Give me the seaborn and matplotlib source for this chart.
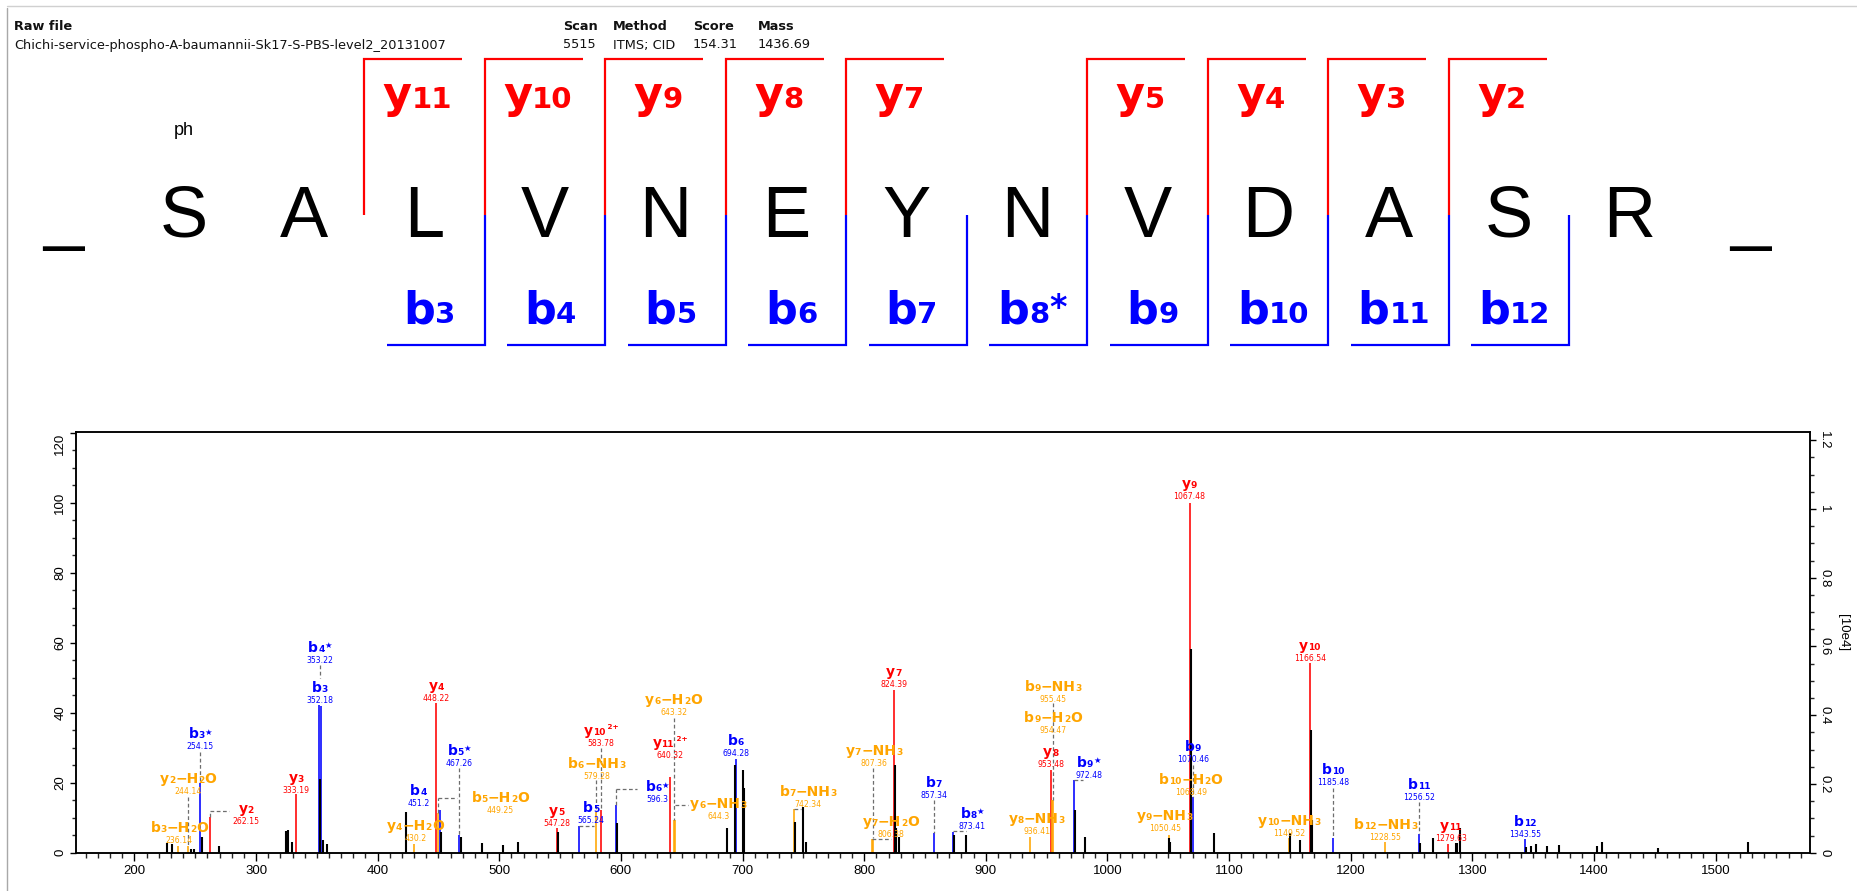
import re
import numpy as np
import pandas as pd
import matplotlib
matplotlib.use("Agg")
import matplotlib.pyplot as plt
import matplotlib.transforms as mtrans
from matplotlib.font_manager import FontProperties
from matplotlib.ticker import MultipleLocator
import seaborn as sns

# ---------------- data ----------------
raw_file = "Chichi-service-phospho-A-baumannii-Sk17-S-PBS-level2_20131007"
meta_keys = ["Scan", "Method", "Score", "Mass"]
meta_vals = ["5515", "ITMS; CID", "154.31", "1436.69"]
peptide = list("SALVNEYNVDASR")
mod_label = "ph"
mod_residue = 0
y_series = [11, 10, 9, 8, 7, 5, 4, 3, 2]
b_series = ["b3", "b4", "b5", "b6", "b7", "b8*", "b9", "b10", "b11", "b12"]

ion_names = ["b3-H2O", "y2-H2O", "b3*", "y2", "y3", "b3", "b4*", "y4-H2O", "y4",
             "b5-H2O", "b4", "b5*", "y5", "b5", "b6-NH3", "y10 2+", "b6*", "y11 2+",
             "y6-H2O", "y6-NH3", "b6", "b7-NH3", "y7-H2O", "y7-NH3", "y7", "b7", "b8*",
             "y8-NH3", "y8", "b9-H2O", "b9-NH3", "b9*", "y9-NH3", "y9", "b10-H2O", "b9",
             "y10-NH3", "y10", "b10", "b12-NH3", "b11", "y11", "b12"]
ion_mz = [236.14, 244.14, 254.15, 262.15, 333.19, 352.18, 353.22, 430.2, 448.22,
          449.25, 451.2, 467.26, 547.28, 565.24, 579.28, 583.78, 596.3, 640.32,
          643.32, 644.3, 694.28, 742.34, 806.38, 807.36, 824.39, 857.34, 873.41,
          936.41, 953.48, 954.47, 955.45, 972.48, 1050.45, 1067.48, 1068.49, 1070.46,
          1149.52, 1166.54, 1185.48, 1228.55, 1256.52, 1279.63, 1343.55]
ion_int = [2.0, 2.0, 19.8, 10.3, 16.7, 42.2, 42.0, 2.5, 42.7,
           11.3, 12.2, 5.0, 7.0, 7.7, 11.7, 12.2, 13.6, 21.7,
           9.3, 9.3, 26.7, 12.4, 3.8, 3.8, 46.5, 5.5, 6.0,
           4.6, 23.6, 15.0, 15.0, 20.8, 5.0, 100.0, 16.0, 16.0,
           4.1, 54.1, 4.1, 3.0, 5.3, 2.5, 3.8]
ion_text = ["236.14", "244.14", "254.15", "262.15", "333.19", "352.18", "353.22", "430.2", "448.22",
            "449.25", "451.2", "467.26", "547.28", "565.24", "579.28", "583.78", "596.3", "640.32",
            "643.32", "644.3", "694.28", "742.34", "806.38", "807.36", "824.39", "857.34", "873.41",
            "936.41", "953.48", "954.47", "955.45", "972.48", "1050.45", "1067.48", "1068.49", "1070.46",
            "1149.52", "1166.54", "1185.48", "1228.55", "1256.52", "1279.63", "1343.55"]

other_mz = [226.6, 230.7, 246.6, 249.3, 255.4, 269.6, 324.7, 326.0, 329.3, 352.5, 354.8,
            358.1, 423.3, 452.1, 468.3, 485.6, 503.4, 515.1, 548.5, 596.5, 687.5, 693.8,
            700.3, 701.1, 743.2, 749.5, 752.2, 825.3, 826.2, 828.9, 874.0, 883.5, 973.3,
            981.8, 1050.9, 1051.8, 1068.3, 1087.7, 1150.3, 1158.4, 1167.4, 1168.4, 1256.8,
            1267.4, 1286.2, 1287.4, 1290.0, 1344.2, 1347.9, 1352.3, 1361.7, 1371.3, 1402.7,
            1406.2, 1452.4, 1526.4]
other_int = [2.9, 2.5, 1.0, 1.0, 4.5, 1.9, 6.2, 6.5, 3.1, 21.0, 3.6,
             2.5, 11.7, 6.0, 4.6, 2.8, 2.2, 3.0, 6.0, 8.5, 7.0, 25.0,
             23.6, 18.5, 8.9, 13.1, 3.1, 25.0, 7.0, 4.6, 5.0, 5.0, 12.2,
             4.6, 4.1, 3.2, 58.1, 5.5, 5.5, 3.6, 35.2, 9.3, 2.9,
             4.1, 2.9, 2.9, 7.0, 1.7, 2.0, 2.4, 2.0, 2.2, 1.9,
             3.1, 1.4, 3.0]

x_ticks = list(range(200, 1501, 100))
y_ticks_left = [0, 20, 40, 60, 80, 100, 120]
y_ticks_right = [0, 0.2, 0.4, 0.6, 0.8, 1.0, 1.2]
y_right_labels = ["0", "0.2", "0.4", "0.6", "0.8", "1", "1.2"]
right_axis_label = "[10e4]"

# ---------------- layout (label placement, not data) ----------------
LABEL_POS = {
    "b3-H2O": (237, 3.6), "y2-H2O": (244.3, 17.4), "b3*": (254.15, 30.3), "y2": (292, 8.9),
    "y3": (333.19, 17.9), "b3": (352.18, 43.6), "b4*": (352.7, 55.0), "y4-H2O": (431, 4.1),
    "y4": (448.22, 44.1), "b5-H2O": (501, 12.2), "b4": (433.5, 14.1), "b5*": (467.26, 25.5),
    "y5": (547.28, 8.4), "b5": (575.5, 9.3), "b6-NH3": (580, 21.7), "y10 2+": (583.78, 31.3),
    "b6*": (630, 15.1), "y11 2+": (640.32, 27.9), "y6-H2O": (643.3, 40.0), "y6-NH3": (680, 10.3),
    "b6": (694.28, 28.3), "b7-NH3": (754, 13.9), "y7-H2O": (822, 5.3), "y7-NH3": (808, 25.5),
    "y7": (824.39, 48.1), "b7": (857.34, 16.4), "b8*": (889, 7.6), "y8-NH3": (942, 6.0),
    "y8": (953.48, 25.3), "b9-H2O": (955.3, 34.8), "b9-NH3": (955.3, 43.9), "b9*": (984.5, 22.1),
    "y9-NH3": (1047, 7.0), "y9": (1067.48, 101.7), "b9": (1070.3, 26.5), "b10-H2O": (1068.5, 17.1),
    "y10-NH3": (1149.5, 5.5), "y10": (1166.54, 55.5), "b10": (1185.48, 20.0),
    "b12-NH3": (1228.6, 4.4), "b11": (1256.52, 15.8), "y11": (1282.5, 4.1), "b12": (1343.55, 5.1),
}
CONNECTORS = {
    "y2-H2O": [(244.14, 16.0, 244.14, 2.0)],
    "b3*": [(254.15, 28.9, 254.15, 19.8)],
    "y2": [(262.15, 10.3, 262.15, 11.9), (262.15, 11.9, 278, 11.9)],
    "b4*": [(352.7, 53.6, 352.7, 49.9)],
    "b5-H2O": [(449.25, 11.3, 449.25, 15.5), (449.25, 15.5, 465, 15.5)],
    "b5*": [(467.26, 24.1, 467.26, 5.0)],
    "b5": [(565.24, 7.7, 578, 7.7)],
    "b6-NH3": [(579.28, 20.8, 579.28, 11.7)],
    "y10 2+": [(583.78, 29.8, 583.78, 12.2)],
    "b6*": [(596.3, 13.6, 596.3, 18.1), (596.3, 18.1, 613, 18.1)],
    "y6-H2O": [(643.32, 38.4, 643.32, 9.3)],
    "y6-NH3": [(644.3, 13.6, 655, 13.6)],
    "b7-NH3": [(742.34, 12.4, 748, 12.4)],
    "y7-H2O": [(806.38, 3.8, 822, 3.8)],
    "y7-NH3": [(807.36, 24.1, 807.36, 4.1)],
    "b7": [(857.34, 15.0, 857.34, 5.5)],
    "b8*": [(873.41, 6.2, 884, 6.2)],
    "b9-NH3": [(955.45, 42.7, 955.45, 15.0)],
    "b9*": [(972.48, 20.8, 980, 20.8)],
    "b9": [(1070.46, 25.2, 1070.46, 16.0)],
    "b10": [(1185.48, 18.4, 1185.48, 4.1)],
    "b11": [(1256.52, 14.6, 1256.52, 5.3)],
}

RED, BLUE, ORANGE = "#ff0000", "#0000ff", "#ffa500"

# ---------------- style ----------------
sns.set_theme(style="ticks")
plt.rcParams["font.family"] = ["DejaVu Sans"]
plt.rcParams["axes.linewidth"] = 1.1

W, H, DPI = 1858, 891, 100
fig = plt.figure(figsize=(W / DPI, H / DPI), dpi=DPI)
fig.patch.set_facecolor("white")
renderer = fig.canvas.get_renderer()


def text_w(s, fp):
    w, h, d = renderer.get_text_width_height_descent(s, fp, ismath=False)
    return w


def parts_for(name, big, small, star="\u2605", star_size=None, star_dy=None):
    m = re.match(r"^([by])(\d+)(\*?)(?: (\d\+))?(?:-(H2O|NH3))?$", name)
    ion, num, st, charge, loss = m.groups()
    parts = [(ion, big, 0.0), (num, small, 0.0)]
    if st:
        parts.append((star, star_size or small, star_dy if star_dy is not None else big * 0.3))
    if charge:
        parts.append((" " + charge, small * 0.8, big * 0.42))
    if loss == "H2O":
        parts += [("\u2212H", big, 0.0), ("2", small, 0.0), ("O", big, 0.0)]
    elif loss == "NH3":
        parts += [("\u2212NH", big, 0.0), ("3", small, 0.0)]
    return parts


def draw_parts(ax, x, y, parts, color, base_dy=0.0, zorder=6):
    fps = [FontProperties(family="DejaVu Sans", weight="bold", size=fs) for _, fs, _ in parts]
    widths = [text_w(s, fp) for (s, _, _), fp in zip(parts, fps)]
    cur = -sum(widths) / 2.0
    for (s, fs, dy), fp, w in zip(parts, fps, widths):
        tr = mtrans.offset_copy(ax.transData, fig=fig, x=cur * 72.0 / DPI,
                                y=base_dy + dy, units="points")
        ax.text(x, y, s, transform=tr, fontproperties=fp, color=color,
                ha="left", va="baseline", zorder=zorder, clip_on=False)
        cur += w


# ---------------- header (pixel coordinates) ----------------
hx = fig.add_axes([0, 0, 1, 1], zorder=0)
hx.set_xlim(0, W)
hx.set_ylim(H, 0)
hx.axis("off")

hx.plot([7, 7], [8, H], color="#a8a8a8", lw=1.0)
hx.plot([7, W], [6, 6], color="#d0d0d0", lw=1.0)

hdr_fp_b = dict(fontsize=9.3, fontweight="bold", va="center", ha="left", color="#111111")
hdr_fp = dict(fontsize=9.3, va="center", ha="left", color="#111111")
hx.text(14, 26, "Raw file", **hdr_fp_b)
hx.text(14, 45, raw_file, **hdr_fp)
for key, val, xp in zip(meta_keys, meta_vals, [563, 613, 693, 758]):
    hx.text(xp, 26, key, **hdr_fp_b)
    hx.text(xp, 45, val, **hdr_fp)

X0, STEP = 63.0, 120.5
tokens = ["_"] + peptide + ["_"]
for i, tok in enumerate(tokens):
    hx.text(X0 + STEP * i, 236.7, tok, fontsize=52, family="Liberation Sans",
            ha="center", va="baseline", color="black")
hx.text(X0 + STEP * (mod_residue + 1), 130.7, mod_label, fontsize=13,
        family="Liberation Sans", ha="center", va="center", color="black")

n_res = len(peptide)
for n in y_series:
    k = n_res - n
    xb = X0 + STEP * (k + 0.5)
    hx.plot([xb, xb, xb + 98], [215, 59, 59], color=RED, lw=1.6,
            solid_joinstyle="miter", solid_capstyle="butt")
    draw_parts(hx, xb + 53, 108.3, parts_for("y%d" % n, 32, 21), RED)
for name in b_series:
    k = int(re.sub(r"\D", "", name))
    xb = X0 + STEP * (k + 0.5)
    hx.plot([xb - 98, xb, xb], [345, 345, 215], color=BLUE, lw=1.6,
            solid_joinstyle="miter", solid_capstyle="butt")
    draw_parts(hx, xb - 55, 323.3,
               parts_for(name, 32, 21, star="*", star_size=24, star_dy=3.5), BLUE)

# ---------------- spectrum ----------------
L, R, B, T = 76, 1810, 852.7, 431.7
ax = fig.add_axes([L / W, (H - B) / H, (R - L) / W, (B - T) / H], zorder=1)
ax.set_facecolor("white")
ax.set_xlim(152.0, 1577.6)
ax.set_ylim(0, 120.3)

ions = pd.DataFrame({"name": ion_names, "mz": ion_mz, "intensity": ion_int, "text": ion_text})
ions["color"] = [ORANGE if "-" in n else (BLUE if n.startswith("b") else RED) for n in ion_names]
others = pd.DataFrame({"mz": other_mz, "intensity": other_int})

for c, grp in ions.groupby("color"):
    ax.vlines(grp["mz"], 0, grp["intensity"], colors=c, lw=1.15, zorder=2)
ax.vlines(others["mz"], 0, others["intensity"], colors="black", lw=1.5, zorder=2.5)

for _, r in ions.iterrows():
    lx, ly = LABEL_POS.get(r["name"], (r["mz"], r["intensity"] + 1.5))
    for (x0, y0, x1, y1) in CONNECTORS.get(r["name"], []):
        ax.plot([x0, x1], [y0, y1], ls=(0, (3, 2)), color="#6e6e6e", lw=0.9, zorder=3)
    ax.text(lx, ly, r["text"], ha="center", va="center", fontsize=5.6,
            color=r["color"], zorder=6, clip_on=False)
    draw_parts(ax, lx, ly, parts_for(r["name"], 10, 6.5, star="\u2605",
                                      star_size=6.0, star_dy=2.6),
               r["color"], base_dy=6.1)

ax.set_xticks(x_ticks)
ax.set_xticklabels([str(t) for t in x_ticks])
ax.xaxis.set_minor_locator(MultipleLocator(10))
ax.set_yticks(y_ticks_left)
ax.set_yticklabels([str(t) for t in y_ticks_left])
ax.yaxis.set_minor_locator(MultipleLocator(5))
ax.tick_params(axis="x", which="major", length=6, width=1.0, direction="out",
               labelsize=9.5, pad=2.5, colors="black")
ax.tick_params(axis="x", which="minor", length=3.5, width=1.0, direction="out")
ax.tick_params(axis="y", which="major", length=4, width=1.0, direction="out",
               labelsize=9.5, pad=3, colors="black")
ax.tick_params(axis="y", which="minor", length=3, width=1.0, direction="out")
for lbl in ax.get_xticklabels() + ax.get_yticklabels():
    lbl.set_family("Liberation Sans")
for lbl in ax.get_yticklabels():
    lbl.set_rotation(90)
    lbl.set_va("center")
ax.get_yticklabels()[-1].set_va("top")
for sp in ax.spines.values():
    sp.set_visible(True)
    sp.set_color("black")
    sp.set_linewidth(1.1)

ax2 = ax.twinx()
ax2.set_ylim(0, 1.2247)
ax2.set_yticks(y_ticks_right)
ax2.set_yticklabels(y_right_labels)
ax2.yaxis.set_minor_locator(MultipleLocator(0.05))
ax2.tick_params(axis="y", which="major", length=4, width=1.0, direction="out",
                labelsize=9.5, pad=2, colors="black")
ax2.tick_params(axis="y", which="minor", length=3, width=1.0, direction="out")
for lbl in ax2.get_yticklabels():
    lbl.set_rotation(270)
    lbl.set_va("center")
    lbl.set_family("Liberation Sans")
for sp in ax2.spines.values():
    sp.set_color("black")
    sp.set_linewidth(1.1)
fig.text(1843 / W, 1 - 633 / H, right_axis_label, rotation=270, ha="center", va="center",
         fontsize=9.5, family="Liberation Sans", color="black")

fig.savefig("out.png", dpi=DPI, facecolor="white")
